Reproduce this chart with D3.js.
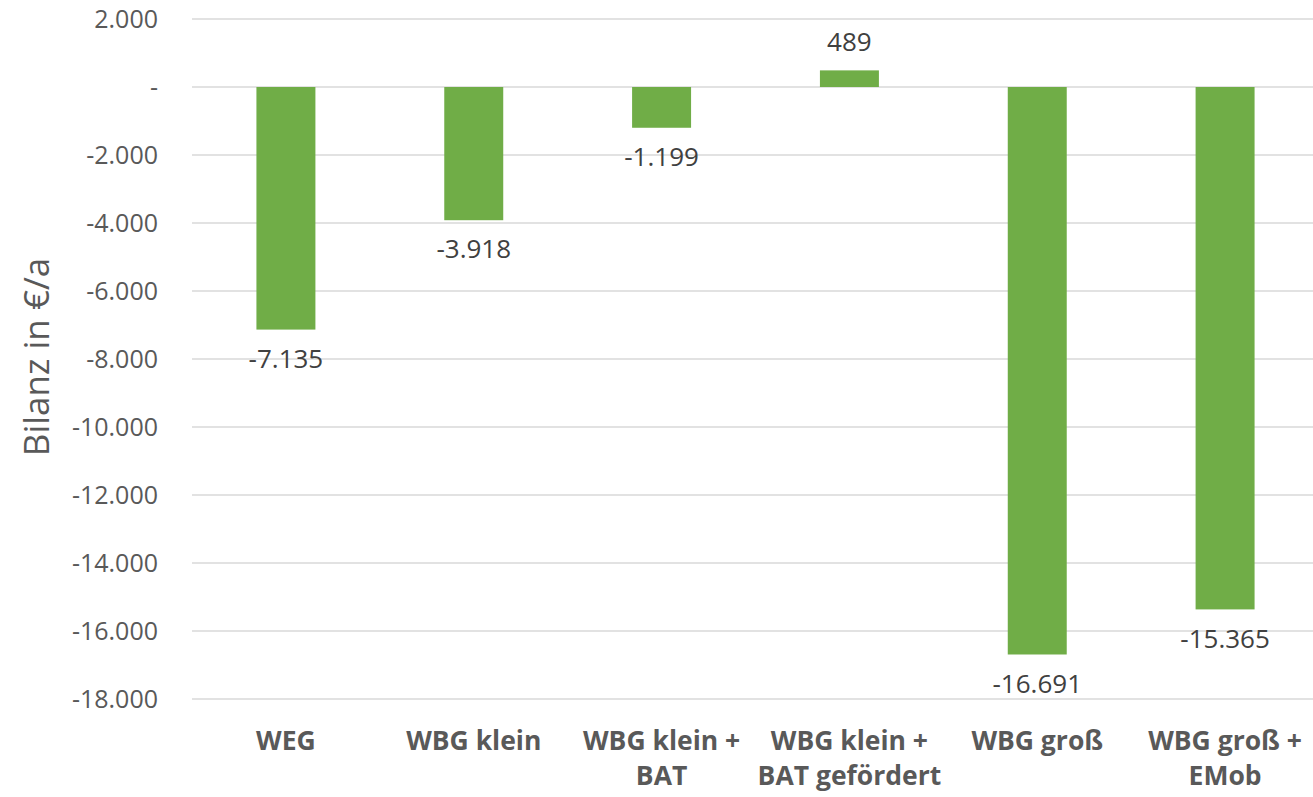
<!DOCTYPE html>
<html>
<head>
<meta charset="utf-8">
<script src="https://cdn.jsdelivr.net/npm/d3@7"></script>
<style>
    body { margin: 0; background: #fff; }
    .tick-label { font-family: "Open Sans", sans-serif; font-size: 25px; fill: #595959; }
    .bar-label { font-family: "Open Sans", sans-serif; font-size: 26px; fill: #404040; }
    .cat-label { font-family: "Open Sans", sans-serif; font-size: 26.5px; font-weight: bold; fill: #595959; }
    .axis-label { font-family: "Open Sans", sans-serif; font-size: 35px; fill: #595959; }
</style>
</head>
<body>
<div id="chart"></div>
<script>
let categories = [["WEG"], ["WBG klein"], ["WBG klein +", "BAT"], ["WBG klein +", "BAT gefördert"], ["WBG groß"], ["WBG groß +", "EMob"]];
let values = [-7135, -3918, -1199, 489, -16691, -15365];
let yTicks = [2000, 0, -2000, -4000, -6000, -8000, -10000, -12000, -14000, -16000, -18000];

let width = 1313;
let height = 797;

let de = d3.formatLocale({ decimal: ",", thousands: ".", grouping: [3], currency: ["", " €"], minus: "-" });
let fmt = de.format(",d");
let tickFmt = (d) => d === 0 ? "-" : fmt(d);

let svg = d3.select("#chart")
    .append("svg")
    .attr("width", width)
    .attr("height", height);

let dataset = categories.map((c, i) => ({ key: i, lines: c, value: values[i] }));

let xScale = d3.scaleBand()
    .domain(dataset.map((d) => d.key))
    .range([192, 1319])
    .paddingInner(0.686)
    .paddingOuter(0.343);

let yScale = d3.scaleLinear()
    .domain([2000, -18000])
    .range([19, 699]);

// gridlines
svg.append("g")
    .selectAll("line")
    .data(yTicks)
    .enter()
    .append("line")
    .attr("x1", 192)
    .attr("x2", width)
    .attr("y1", (d) => yScale(d))
    .attr("y2", (d) => yScale(d))
    .attr("stroke", "#d9d9d9")
    .attr("stroke-width", 1.5);

// y-axis labels
let yAxis = d3.axisLeft(yScale)
    .tickValues(yTicks)
    .tickFormat(tickFmt)
    .tickSize(0)
    .tickPadding(0);

let yG = svg.append("g")
    .attr("transform", "translate(158,0)")
    .call(yAxis);
yG.select(".domain").remove();
yG.selectAll("text")
    .attr("class", "tick-label")
    .attr("font-family", null)
    .attr("font-size", null)
    .attr("fill", null)
    .attr("dy", "0.35em");

// bars
svg.selectAll("rect.bar")
    .data(dataset)
    .enter()
    .append("rect")
    .attr("class", "bar")
    .attr("x", (d) => xScale(d.key))
    .attr("width", xScale.bandwidth())
    .attr("y", (d) => yScale(Math.max(0, d.value)))
    .attr("height", (d) => Math.abs(yScale(d.value) - yScale(0)))
    .attr("fill", "#70ad47");

// value labels
svg.selectAll("text.bar-label")
    .data(dataset)
    .enter()
    .append("text")
    .attr("class", "bar-label")
    .attr("text-anchor", "middle")
    .attr("x", (d) => xScale(d.key) + xScale.bandwidth() / 2)
    .attr("y", (d) => d.value < 0 ? yScale(d.value) + 29 : yScale(d.value) - 28)
    .attr("dy", "0.35em")
    .text((d) => fmt(d.value));

// category labels
let cats = svg.selectAll("text.cat-label")
    .data(dataset)
    .enter()
    .append("text")
    .attr("class", "cat-label")
    .attr("text-anchor", "middle")
    .attr("x", (d) => xScale(d.key) + xScale.bandwidth() / 2)
    .attr("y", 741);

cats.selectAll("tspan")
    .data((d) => d.lines.map((l) => ({ text: l, x: xScale(d.key) + xScale.bandwidth() / 2 })))
    .enter()
    .append("tspan")
    .attr("x", (d) => d.x)
    .attr("dy", (d, i) => i === 0 ? "0.35em" : "35px")
    .text((d) => d.text);

// Y Axis Label
svg.append("text")
    .attr("class", "axis-label")
    .attr("text-anchor", "middle")
    .attr("transform", "translate(37, 357) rotate(-90)")
    .attr("dy", "0.35em")
    .text("Bilanz in €/a");
</script>
</body>
</html>
